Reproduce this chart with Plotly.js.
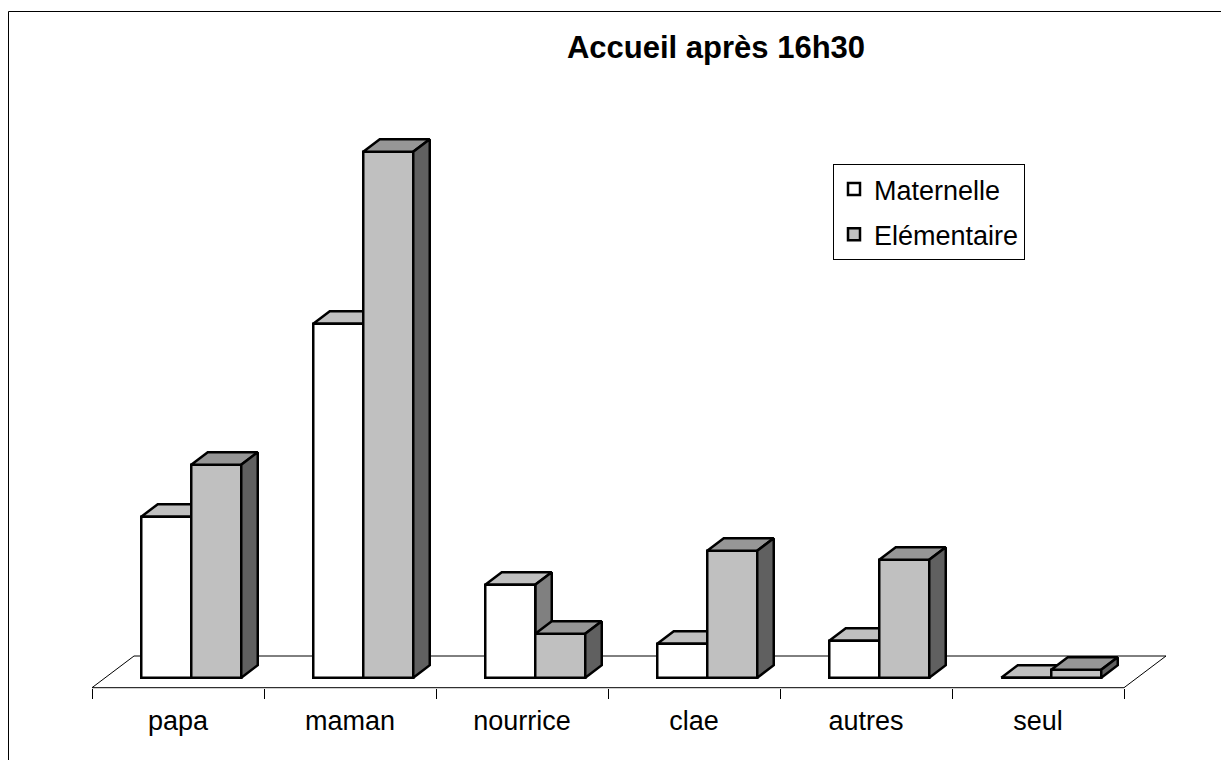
<!DOCTYPE html>
<html><head><meta charset="utf-8">
<script src="https://cdn.plot.ly/plotly-3.0.1.min.js"></script>
<style>html,body{margin:0;padding:0;background:#fff}#chart{width:1221px;height:760px}</style>
</head><body><div id="chart"></div>
<script>
// ---- data ----
const categories = ['papa', 'maman', 'nourrice', 'clae', 'autres', 'seul'];
const maternelle = [16.1, 35.4, 9.3, 3.4, 3.7, 0];
const elementaire = [21.3, 52.6, 4.4, 12.7, 11.8, 0.8];
const seriesNames = ['Maternelle', 'Elémentaire'];
const chartTitle = 'Accueil après 16h30';

// ---- geometry / style ----
const W = 1221, H = 760;
const PX_X = 172, PX_Y = 10;            // pixels per category / per value unit
const CENTER0 = 178, ZERO_PX = 677.7;   // pixel of first category (front floor) / of value 0
const xRange = [-CENTER0 / PX_X, (W - CENTER0) / PX_X];
const yRange = [-(H - ZERO_PX) / PX_Y, ZERO_PX / PX_Y];
const BW = 50 / PX_X;                   // bar width
const DXF = 13.25 / PX_X;               // front face shift from floor front
const FLOOR_Y = -1.0;                   // floor front edge (value units)
const DX = 16.5 / PX_X, DY = 12.5 / PX_Y;   // bar depth
const FDX = 42 / PX_X, FDY = 31.7 / PX_Y;   // floor depth
const LW = 2.5;
const colors = {
  front: ['#ffffff', '#c0c0c0'],
  top: ['#c0c0c0', '#969696'],
  side: ['#808080', '#606060']
};
const seriesVals = [maternelle, elementaire];
const FONT = 'Liberation Sans, Arial, sans-serif';

function faceTraces(s, xaxis) {
  const top = {x: [], y: []}, side = {x: [], y: []};
  seriesVals[s].forEach((v, i) => {
    const xl = i + DXF - BW + s * BW, xr = xl + BW;
    top.x.push(xl, xl + DX, xr + DX, xr, xl, null);
    top.y.push(v, v + DY, v + DY, v, v, null);
    side.x.push(xr, xr, xr + DX, xr + DX, xr, null);
    side.y.push(0, v, v + DY, DY, 0, null);
  });
  return [['top', top], ['side', side]].map(([k, d]) => ({
    type: 'scatter', mode: 'lines', x: d.x, y: d.y, xaxis: xaxis, yaxis: 'y',
    fill: 'toself', fillcolor: colors[k][s],
    line: {color: '#000', width: LW, join: 'miter'},
    showlegend: false, hoverinfo: 'skip'
  }));
}

const bars = seriesVals.map((vals, s) => ({
  type: 'bar', name: seriesNames[s], x: categories, y: vals,
  xaxis: 'x2', yaxis: 'y',
  width: BW, offset: DXF - BW + s * BW,
  marker: {color: colors.front[s], line: {color: '#000', width: LW}},
  legendgroup: 'g' + s, hoverinfo: 'skip'
}));

const data = [
  ...faceTraces(0, 'x'),   // layer A: maternelle top/side
  ...bars,                 // layer B: front faces
  ...faceTraces(1, 'x3')   // layer C: élémentaire top/side
];

const n = categories.length;
const fx0 = -0.5, fx1 = n - 0.5;
const floorPath = `M${fx0},${FLOOR_Y} L${fx1},${FLOOR_Y} L${fx1 + FDX},${FLOOR_Y + FDY} L${fx0 + FDX},${FLOOR_Y + FDY} Z`;

const layout = {
  width: W, height: H,
  margin: {l: 0, r: 0, t: 0, b: 0, pad: 0},
  paper_bgcolor: '#fff', plot_bgcolor: 'rgba(0,0,0,0)',
  font: {family: FONT, color: '#000', size: 27},
  title: {
    text: chartTitle, x: 716 / W, xanchor: 'center', y: 1 - 47 / H, yanchor: 'middle',
    font: {family: FONT, size: 31, weight: 'bold', color: '#000'}
  },
  barmode: 'overlay',
  xaxis: {type: 'linear', range: xRange, visible: false, fixedrange: true},
  xaxis2: {
    type: 'category', categoryarray: categories, categoryorder: 'array',
    overlaying: 'x', anchor: 'free', position: 1 - (ZERO_PX - FLOOR_Y * PX_Y) / H,
    range: xRange, showgrid: false, zeroline: false, showline: false,
    tickson: 'boundaries', ticks: 'outside', ticklen: 10, tickwidth: 1, tickcolor: '#000',
    tickfont: {family: FONT, size: 27, color: '#000'}, ticklabelstandoff: 14, fixedrange: true
  },
  xaxis3: {type: 'linear', overlaying: 'x', range: xRange, visible: false, fixedrange: true},
  yaxis: {range: yRange, visible: false, fixedrange: true},
  showlegend: true,
  legend: {
    x: 833 / W, y: 1 - 164 / H, xanchor: 'left', yanchor: 'top',
    bgcolor: '#fff', bordercolor: '#000', borderwidth: 1,
    font: {family: FONT, size: 27, color: '#000'},
    traceorder: 'grouped', tracegroupgap: 7
  },
  shapes: [
    {type: 'path', xref: 'x', yref: 'y', path: floorPath, layer: 'below',
     line: {color: '#000', width: 1}, fillcolor: 'rgba(0,0,0,0)'},
    {type: 'rect', xref: 'paper', yref: 'paper', x0: 8.5 / W, y0: 1 - 11.5 / H, x1: 1.05, y1: -0.05,
     line: {color: '#000', width: 1}, fillcolor: 'rgba(0,0,0,0)', layer: 'below'}
  ]
};

Plotly.newPlot('chart', data, layout, {staticPlot: true, displayModeBar: false});
</script>
</body></html>
